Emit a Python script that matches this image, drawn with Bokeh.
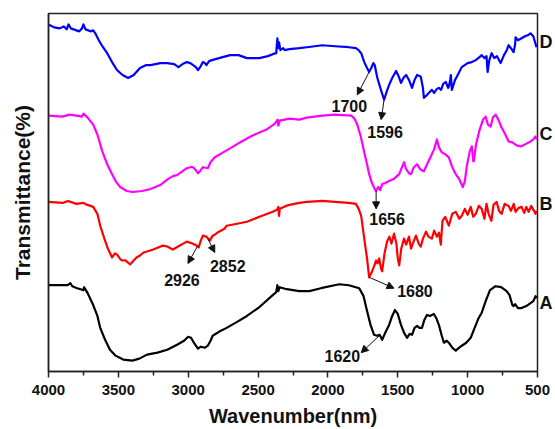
from bokeh.plotting import figure
from bokeh.models import Range1d, FixedTicker, Label, Arrow, NormalHead, LinearAxis
from bokeh.embed import file_html
from bokeh.resources import INLINE

# ---- data (wavenumber, transmittance in arbitrary offset units) ----
wn_D = [4000, 3960, 3920, 3890, 3870, 3857, 3840, 3800, 3780, 3760, 3750, 3735, 3700, 3680, 3665,
        3640, 3610, 3580, 3545, 3510, 3470, 3430, 3390, 3345, 3300, 3270, 3200, 3150, 3100, 3070,
        3040, 3010, 2985, 2965, 2945, 2930, 2910, 2895, 2880, 2870, 2850, 2830, 2780, 2700, 2640,
        2580, 2490, 2430, 2395, 2370, 2362, 2356, 2350, 2340, 2320, 2310, 2275, 2205, 2150, 2040,
        1950, 1850, 1800, 1780, 1762, 1740, 1720, 1705, 1690, 1675, 1665, 1648, 1625, 1598, 1580,
        1562, 1540, 1512, 1495, 1477, 1460, 1440, 1420, 1398, 1380, 1362, 1345, 1335, 1320, 1313,
        1290, 1270, 1256, 1240, 1220, 1206, 1190, 1175, 1156, 1140, 1135, 1125, 1120, 1113, 1090,
        1060, 1042, 1000, 970, 942, 915, 899, 880, 865, 857, 845, 828, 810, 790, 764,
        740, 720, 707, 690, 671, 660, 657, 640, 614, 590, 570, 550, 530, 507]
T_D = [350, 347, 346, 348, 345, 350, 346, 344, 343, 346, 350, 345, 343, 344, 341,
       334, 327, 321, 312, 304, 299, 296, 299, 306, 309, 309, 311, 311, 310, 307,
       310, 312, 311, 309, 307, 304, 308, 312, 311, 309, 313, 314, 316, 319, 319,
       316, 316, 318, 320, 321, 336, 326, 332, 324, 326, 324, 325, 326, 327, 329,
       328, 327, 326, 324, 321, 312, 306, 302, 306, 311, 309, 297, 286, 274, 282,
       289, 296, 303, 298, 291, 296, 299, 294, 286, 294, 299, 298, 297, 286, 276,
       279, 282, 284, 281, 285, 286, 284, 290, 292, 286, 287, 294, 299, 284, 294,
       302, 307, 311, 312, 314, 317, 319, 316, 318, 302, 314, 321, 316, 318, 311,
       319, 324, 329, 326, 322, 330, 337, 334, 336, 338, 339, 341, 338, 327]

wn_C = [4000, 3900, 3850, 3800, 3760, 3750, 3720, 3680, 3650, 3615, 3580, 3545, 3515, 3487, 3440,
        3400, 3330, 3270, 3200, 3145, 3110, 3080, 3040, 3010, 2985, 2965, 2945, 2930, 2910, 2895,
        2860, 2840, 2810, 2750, 2700, 2630, 2540, 2440, 2380, 2360, 2355, 2345, 2275, 2205, 2150,
        2040, 1950, 1833, 1810, 1790, 1765, 1740, 1720, 1705, 1685, 1665, 1655, 1640, 1625, 1612,
        1590, 1562, 1530, 1490, 1470, 1455, 1440, 1420, 1405, 1385, 1362, 1340, 1313, 1290, 1263,
        1240, 1220, 1205, 1185, 1160, 1135, 1110, 1085, 1060, 1035, 1020, 1006, 985, 970, 960,
        956, 940, 914, 890, 871, 855, 835, 820, 800, 780, 757, 730, 707, 680, 650,
        621, 590, 550, 530, 514, 505]
T_C = [258, 257, 259, 258, 257, 260, 256, 249, 239, 222, 209, 199, 191, 186, 182,
       181, 182, 184, 188, 194, 197, 198, 202, 205, 206, 206, 203, 200, 203, 206,
       205, 211, 216, 221, 225, 231, 238, 244, 250, 254, 248, 253, 255, 254, 256,
       258, 259, 258, 255, 249, 237, 221, 209, 199, 190, 184, 182, 186, 183, 189,
       190, 192, 194, 199, 206, 211, 204, 200, 199, 206, 209, 204, 202, 209, 217,
       224, 234, 226, 221, 219, 216, 206, 199, 194, 186, 192, 207, 222, 227, 212,
       212, 229, 244, 254, 257, 249, 247, 256, 259, 254, 246, 239, 232, 231, 228,
       227, 229, 232, 234, 237, 234]

wn_B = [4000, 3900, 3860, 3800, 3750, 3720, 3680, 3650, 3630, 3600, 3575, 3545, 3525, 3510, 3490,
        3475, 3450, 3415, 3390, 3370, 3345, 3320, 3295, 3250, 3180, 3150, 3110, 3060, 3010, 2970,
        2940, 2925, 2910, 2895, 2870, 2845, 2825, 2810, 2780, 2740, 2725, 2650, 2580, 2490, 2395,
        2365, 2355, 2350, 2345, 2300, 2275, 2205, 2150, 2040, 1950, 1850, 1800, 1780, 1762, 1740,
        1720, 1705, 1690, 1670, 1655, 1645, 1633, 1620, 1612, 1595, 1577, 1560, 1545, 1527, 1510,
        1500, 1490, 1475, 1455, 1440, 1420, 1405, 1390, 1370, 1350, 1335, 1320, 1298, 1280, 1256,
        1240, 1220, 1205, 1192, 1180, 1160, 1135, 1110, 1085, 1060, 1042, 1020, 1000, 978, 960,
        942, 920, 899, 880, 865, 850, 830, 815, 793, 775, 757, 735, 707, 690, 670,
        657, 635, 614, 595, 580, 564, 545, 525, 514, 505]
T_B = [171, 170, 172, 169, 170, 168, 166, 159, 147, 134, 124, 115, 119, 118, 114,
       112, 112, 108, 112, 115, 117, 120, 121, 123, 127, 126, 123, 127, 131, 129,
       127, 125, 132, 137, 136, 132, 137, 138, 141, 144, 147, 149, 151, 156, 161,
       163, 166, 157, 164, 167, 168, 170, 171, 172, 171, 170, 169, 164, 157, 134,
       114, 95, 99, 106, 112, 109, 114, 104, 101, 119, 131, 136, 129, 139, 129,
       114, 107, 124, 134, 128, 136, 124, 130, 137, 129, 126, 134, 141, 136, 134,
       142, 136, 140, 128, 152, 156, 147, 159, 161, 154, 157, 164, 158, 166, 156,
       159, 167, 164, 154, 169, 159, 152, 168, 171, 162, 159, 169, 167, 162, 169,
       161, 165, 166, 160, 166, 161, 167, 162, 159, 162]

wn_A = [4000, 3900, 3865, 3843, 3830, 3795, 3770, 3750, 3745, 3720, 3680, 3650, 3630, 3595, 3560,
        3520, 3465, 3400, 3350, 3295, 3220, 3150, 3080, 3030, 3000, 2980, 2955, 2930, 2910, 2880,
        2860, 2840, 2825, 2780, 2725, 2650, 2580, 2490, 2395, 2370, 2362, 2355, 2345, 2295, 2205,
        2133, 2050, 1919, 1850, 1776, 1745, 1720, 1695, 1670, 1648, 1630, 1612, 1590, 1562, 1540,
        1520, 1500, 1477, 1455, 1434, 1415, 1398, 1380, 1362, 1345, 1327, 1310, 1291, 1270, 1242,
        1225, 1206, 1185, 1170, 1150, 1135, 1110, 1085, 1060, 1042, 1010, 978, 950, 921, 900,
        871, 840, 800, 760, 721, 700, 680, 671, 660, 640, 614, 580, 550, 530, 514, 505]
T_A = [87, 87, 87, 89, 86, 84, 83, 82, 85, 79, 67, 56, 44, 32, 22,
       16, 12, 11, 13, 17, 19, 22, 27, 31, 35, 34, 28, 23, 25, 24,
       26, 31, 36, 40, 44, 50, 56, 65, 77, 80, 87, 81, 85, 83, 81,
       81, 84, 88, 87, 84, 76, 61, 47, 37, 36, 37, 32, 39, 47, 56,
       62, 58, 47, 39, 34, 38, 37, 44, 46, 44, 44, 52, 57, 56, 58,
       54, 47, 36, 29, 31, 29, 24, 21, 24, 26, 29, 34, 44, 54, 59,
       71, 82, 86, 85, 81, 77, 67, 66, 68, 64, 64, 66, 69, 71, 76, 74]

series_names = ["A", "B", "C", "D"]
series_colors = ["#000000", "#ff0000", "#ff00ff", "#0000ff"]
series_label_y = [69, 169, 239, 332]

x_ticks = [4000, 3500, 3000, 2500, 2000, 1500, 1000, 500]
x_minor = [3750, 3250, 2750, 2250, 1750, 1250, 750]

# peak annotations: text, arrow start (wn, T), arrow end (wn, T), text centre (wn, T)
peaks = [
    ("1700", (1705, 302), (1790, 279), (1847, 268)),
    ("1596", (1598, 274), (1619, 254), (1591, 242)),
    ("1656", (1655, 182), (1655, 164), (1577, 154)),
    ("1680", (1705, 95), (1527, 84), (1377, 81)),
    ("1620", (1633, 36), (1762, 19), (1897, 16)),
    ("2926", (2931, 127), (3002, 109), (3045, 92)),
    ("2852", (2860, 134), (2810, 120), (2717, 106)),
]

FONT = "Liberation Sans"
INK = "#111111"

p = figure(width=555, height=429, output_backend="svg", toolbar_location=None,
           x_range=Range1d(4000, 500), y_range=Range1d(0, 361),
           min_border_left=48, min_border_right=17, min_border_top=13, min_border_bottom=55)
p.xgrid.visible = False
p.ygrid.visible = False
p.outline_line_color = "#222222"
p.outline_line_width = 1.5
p.background_fill_color = "white"
p.border_fill_color = "white"

curves = [(wn_A, T_A), (wn_B, T_B), (wn_C, T_C), (wn_D, T_D)]
for (xs, ys), col in zip(curves, series_colors):
    p.line(xs, ys, line_color=col, line_width=2.2, line_join="round")

xa = p.xaxis[0]
xa.ticker = FixedTicker(ticks=x_ticks, minor_ticks=x_minor)
xa.axis_line_color = "#222222"
xa.axis_line_width = 1.5
xa.major_tick_line_color = "#222222"
xa.major_tick_line_width = 1.5
xa.minor_tick_line_color = "#222222"
xa.minor_tick_line_width = 1.5
xa.major_tick_in = 0
xa.major_tick_out = 6
xa.minor_tick_in = 0
xa.minor_tick_out = 4
xa.major_label_standoff = 7
xa.major_label_text_font = FONT
xa.major_label_text_font_style = "bold"
xa.major_label_text_font_size = "15px"
xa.major_label_text_color = INK
xa.axis_label = "Wavenumber(nm)"
xa.axis_label_text_font = FONT
xa.axis_label_text_font_style = "bold"
xa.axis_label_text_font_size = "20px"
xa.axis_label_text_color = INK
xa.axis_label_standoff = 7

ya = p.yaxis[0]
ya.ticker = FixedTicker(ticks=[])
ya.axis_line_color = "#222222"
ya.axis_line_width = 1.5
ya.major_tick_out = 0
ya.major_tick_in = 0
ya.minor_tick_out = 0
ya.minor_tick_in = 0
ya.major_label_text_font_size = "0px"
ya.axis_label = "Transmittance(%)"
ya.axis_label_text_font = FONT
ya.axis_label_text_font_style = "bold"
ya.axis_label_text_font_size = "21px"
ya.axis_label_text_color = INK
ya.axis_label_standoff = 15

# series labels A-D on the right, outside the frame
ra = LinearAxis(ticker=FixedTicker(ticks=series_label_y),
                major_label_overrides={v: n for v, n in zip(series_label_y, series_names)},
                axis_line_color=None, major_tick_line_color=None, minor_tick_line_color=None,
                major_tick_in=0, major_tick_out=0, minor_tick_in=0, minor_tick_out=0,
                major_label_standoff=2, major_label_text_font=FONT,
                major_label_text_font_style="bold", major_label_text_font_size="18px",
                major_label_text_color=INK)
p.add_layout(ra, "right")

for txt, (x0, y0), (x1, y1), (tx, ty) in peaks:
    p.add_layout(Arrow(x_start=x0, y_start=y0, x_end=x1, y_end=y1, line_width=1,
                       line_color=INK,
                       end=NormalHead(size=7, fill_color=INK, line_color=INK)))
    p.add_layout(Label(x=tx, y=ty, text=txt, text_align="center", text_baseline="middle",
                       text_font=FONT, text_font_style="bold", text_font_size="16px",
                       text_color=INK))

open("out.html", "w").write(file_html(p, INLINE))
